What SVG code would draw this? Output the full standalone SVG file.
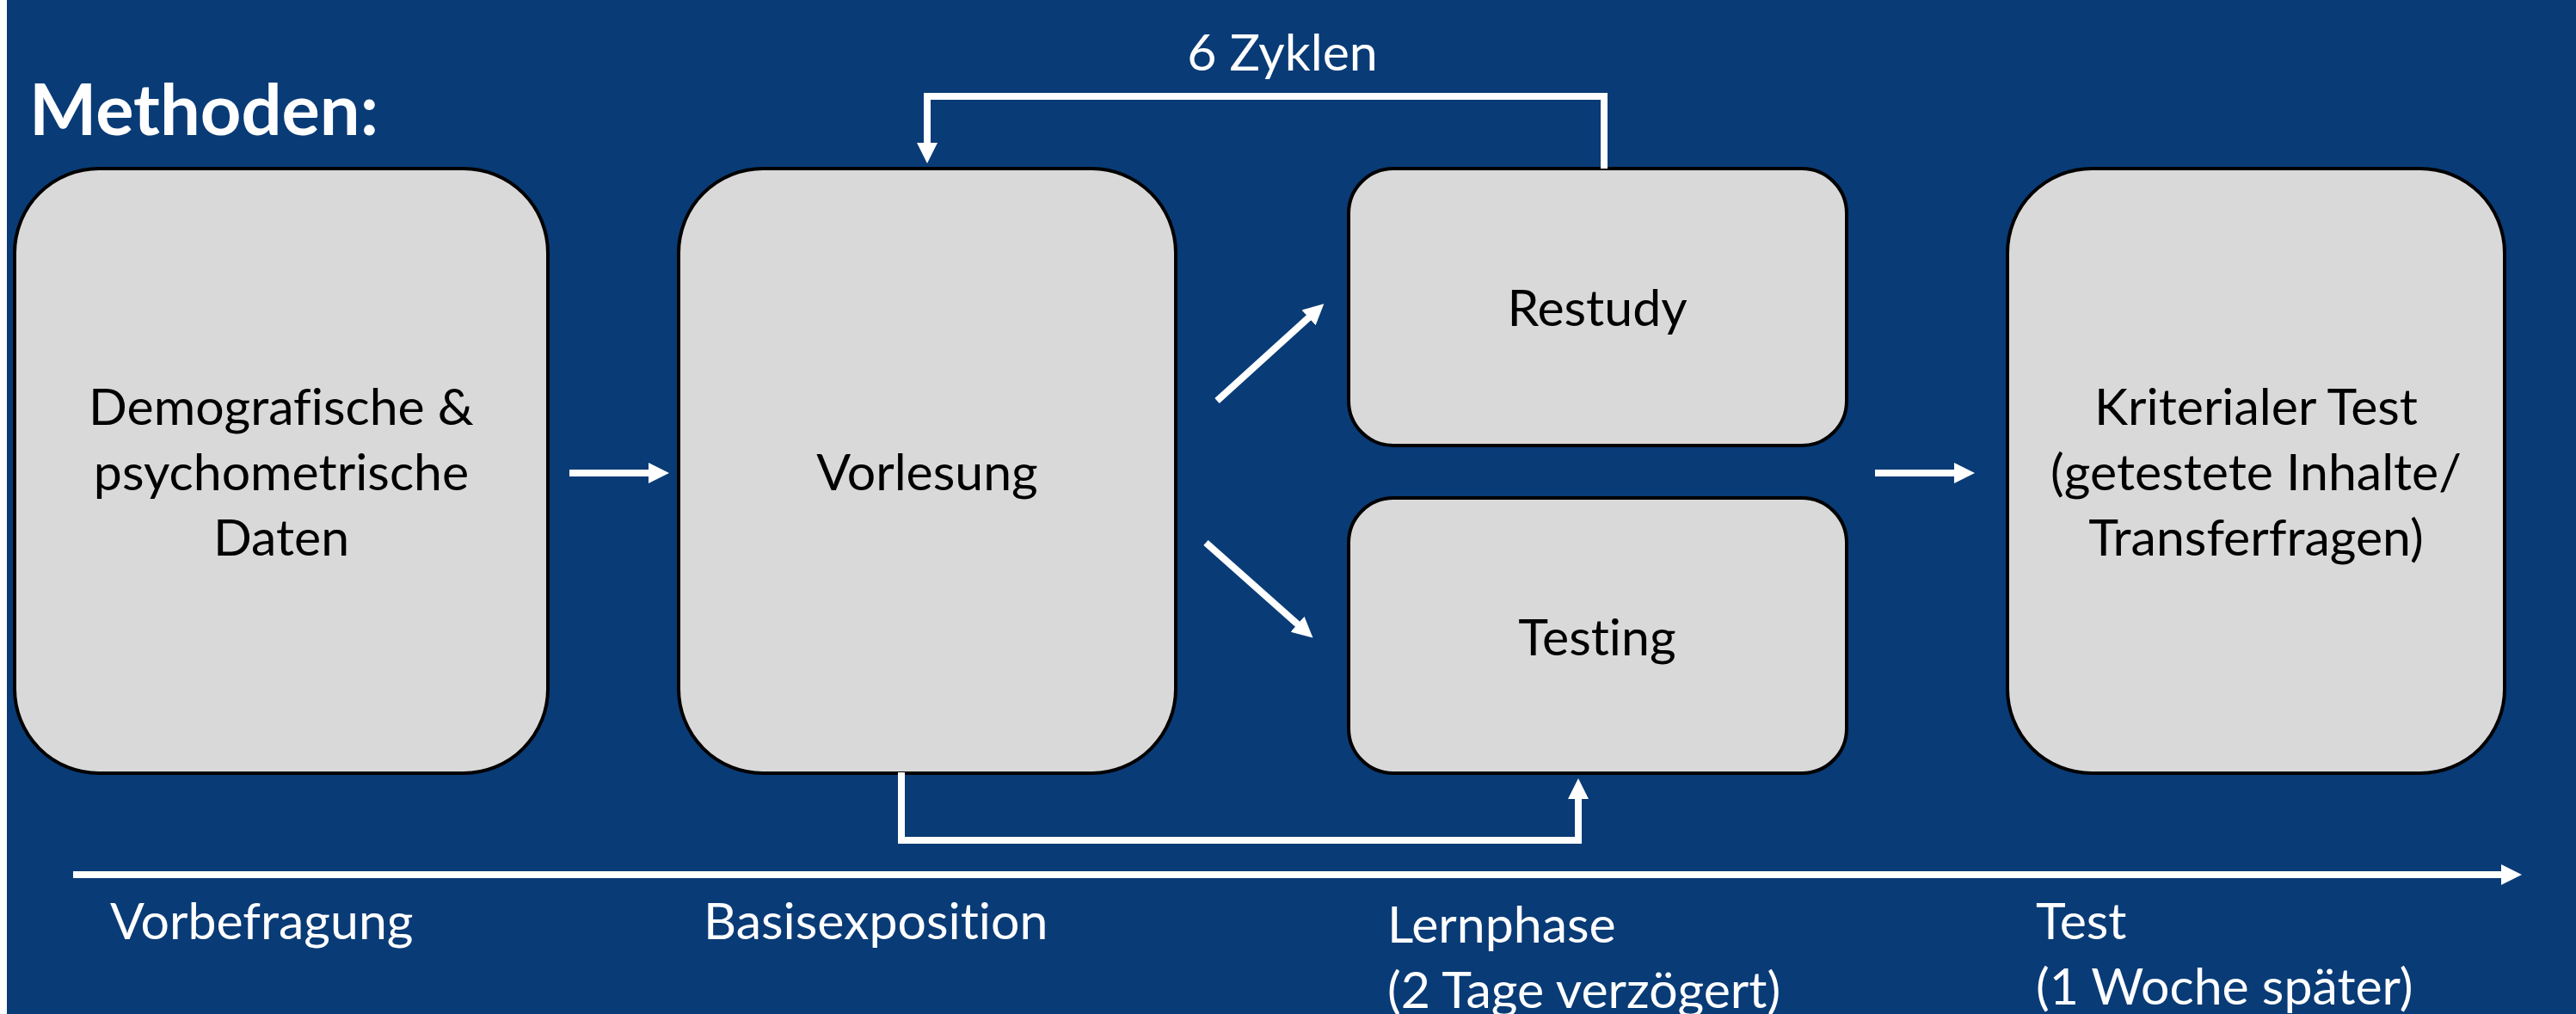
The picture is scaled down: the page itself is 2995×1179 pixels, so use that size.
<svg xmlns="http://www.w3.org/2000/svg" width="2995" height="1179" viewBox="0 0 2995 1179">
  <defs>
    <marker id="head" markerUnits="userSpaceOnUse" markerWidth="26" markerHeight="26" viewBox="0 -13 26 26" refX="2" refY="0" orient="auto">
      <path d="M0,-12 L24,0 L0,12 Z" fill="#ffffff"/>
    </marker>
    <style>
      text { font-variant-ligatures: none; font-feature-settings: "liga" 0; }
      .box { fill: #d9d9d9; stroke: #000000; stroke-width: 4; }
      .lbl { font-family: Lato, "Open Sans", sans-serif; font-size: 59px; fill: #000000; text-anchor: middle; }
      .phase { font-family: Lato, "Open Sans", sans-serif; font-size: 59px; fill: #ffffff; }
      .title { font-family: Lato, "Open Sans", sans-serif; font-size: 83px; font-weight: bold; fill: #ffffff; }
      .conn { fill: none; stroke: #ffffff; stroke-width: 8; stroke-linejoin: miter; }
      .arrow { marker-end: url(#head); }
    </style>
  </defs>

  <!-- background -->
  <rect x="0" y="0" width="2995" height="1179" fill="#ffffff"/>
  <rect x="8" y="0" width="2987" height="1179" fill="#093b76"/>

  <text class="title" x="34" y="157">Methoden:</text>

  <!-- nodes -->
  <g id="node-demografie">
    <rect class="box" x="17" y="196" width="620" height="703" rx="98" ry="98"/>
    <text class="lbl" x="327" y="494">Demografische &amp;</text>
    <text class="lbl" x="327" y="570">psychometrische</text>
    <text class="lbl" x="327" y="646">Daten</text>
  </g>
  <g id="node-vorlesung">
    <rect class="box" x="789" y="196" width="578" height="703" rx="98" ry="98"/>
    <text class="lbl" x="1078" y="570">Vorlesung</text>
  </g>
  <g id="node-restudy">
    <rect class="box" x="1568" y="196" width="579" height="322" rx="52" ry="52"/>
    <text class="lbl" x="1857" y="379">Restudy</text>
  </g>
  <g id="node-testing">
    <rect class="box" x="1568" y="579" width="579" height="320" rx="52" ry="52"/>
    <text class="lbl" x="1857" y="762">Testing</text>
  </g>
  <g id="node-kriterialer-test">
    <rect class="box" x="2334" y="196" width="578" height="703" rx="98" ry="98"/>
    <text class="lbl" x="2623" y="494">Kriterialer Test</text>
    <text class="lbl" x="2623" y="570">(getestete Inhalte/</text>
    <text class="lbl" x="2623" y="646">Transferfragen)</text>
  </g>

  <!-- connectors -->
  <g id="connectors">
    <path class="conn arrow" d="M662,550 H756"/>
    <path class="conn arrow" d="M1415,466 L1523,368"/>
    <path class="conn arrow" d="M1402,631 L1510,727"/>
    <path class="conn arrow" d="M2180,550 H2274"/>
    <path class="conn arrow" d="M1865,196 V112 H1078 V168"/>
    <path class="conn arrow" d="M1048,898 V977 H1835 V927"/>
    <path class="conn arrow" d="M85,1017 H2910"/>
    <text class="phase" x="1491" y="82" text-anchor="middle">6 Zyklen</text>
  </g>

  <!-- phase labels along the time axis -->
  <g id="phases">
    <text class="phase" x="128" y="1092">Vorbefragung</text>
    <text class="phase" x="818" y="1092">Basisexposition</text>
    <text class="phase" x="1613" y="1096">Lernphase</text>
    <text class="phase" x="1613" y="1172">(2 Tage verzögert)</text>
    <text class="phase" x="2367" y="1092">Test</text>
    <text class="phase" x="2367" y="1168">(1 Woche später)</text>
  </g>
</svg>
